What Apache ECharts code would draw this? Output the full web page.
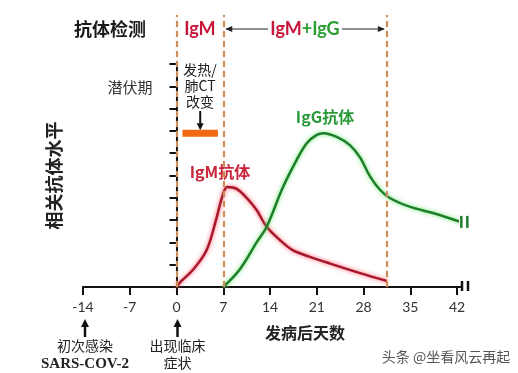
<!DOCTYPE html>
<html><head><meta charset="utf-8">
<script src="https://cdn.jsdelivr.net/npm/echarts@6/dist/echarts.min.js"></script>
<style>html,body{margin:0;padding:0;background:#fff}#c{width:518px;height:373px}</style>
</head><body><div id="c"></div>
<script>
// ---- data ----
const xTicks = [-14, -7, 0, 7, 14, 21, 28, 35, 42];
const igmDays   = [0, 0.5, 2.4, 4.5, 6.0, 6.8, 7.6, 9.0, 10.5, 12.0, 13.5, 15.5, 17.4, 20.0, 23.0, 27.5, 31.5];
const igmValues = [0, 0.2, 0.75, 1.65, 3.1, 4.0, 4.48, 4.4, 4.0, 3.45, 2.7, 2.1, 1.65, 1.35, 1.05, 0.62, 0.27];
const iggDays   = [7, 9.5, 12, 13.5, 15.9, 18, 19.5, 21, 22, 24, 26, 27.5, 29, 30.5, 32, 35, 38.4, 42.5];
const iggValues = [0, 0.8, 2.0, 2.7, 4.45, 5.7, 6.45, 6.82, 6.9, 6.73, 6.35, 5.8, 4.95, 4.35, 3.98, 3.59, 3.32, 2.92];
const phaseLines = [0, 7, 31.5];
const symptomSpan = [0.9, 6.2];
const symptomLevel = 6.9;

const CJK = '"Noto Sans CJK SC", sans-serif';
const LAT = 'Lato, "Noto Sans", sans-serif';
const RED = '#a8182c', GREEN = '#1d7f2c', ORANGE_DASH = '#c98e5e';

const chart = echarts.init(document.getElementById('c'), null, {renderer: 'canvas'});
const option = {
  animation: false,
  backgroundColor: '#fff',
  grid: [
    {left: 83, right: 61, top: 64, bottom: 86},
    {left: 83, right: 61, top: 15, bottom: 86}
  ],
  xAxis: [
    {type: 'value', gridIndex: 0, min: -14, max: 42, interval: 7,
     axisLine: {lineStyle: {color: '#111', width: 2}},
     axisTick: {length: 8, lineStyle: {color: '#111', width: 2}},
     splitLine: {show: false},
     axisLabel: {margin: 13, fontSize: 14, color: '#333', fontFamily: LAT,
       formatter: v => xTicks.includes(v) ? String(v) : ''}},
    {type: 'value', gridIndex: 1, min: -14, max: 42, show: false}
  ],
  yAxis: [
    {type: 'value', gridIndex: 0, min: 0, max: 10, interval: 1,
     axisLine: {show: true, lineStyle: {color: '#111', width: 2}},
     axisTick: {show: true, length: 7, lineStyle: {color: '#111', width: 2}},
     axisLabel: {show: false}, splitLine: {show: false},
     name: '相关抗体水平', nameLocation: 'middle', nameGap: 20, nameRotate: 90,
     nameTextStyle: {fontFamily: CJK, fontSize: 18, fontWeight: 'bold', color: '#222'}},
    {type: 'value', gridIndex: 1, min: 0, max: 1, show: false}
  ],
  series: [
    {type: 'line', xAxisIndex: 1, yAxisIndex: 1, data: [], silent: true,
     markLine: {symbol: ['none', 'none'], silent: true, label: {show: false},
       lineStyle: {color: ORANGE_DASH, width: 2, type: [6, 4], shadowBlur: 2, shadowColor: 'rgba(255,170,90,0.6)'},
       data: phaseLines.map(d => ({xAxis: d}))}},
    {name: 'IgM', type: 'line', smooth: 0.35, showSymbol: false, clip: false,
     data: igmDays.map((d, i) => [d, igmValues[i]]),
     lineStyle: {color: RED, width: 2.5, shadowBlur: 4, shadowColor: 'rgba(255,70,90,0.9)'}},
    {name: 'IgG', type: 'line', smooth: 0.35, showSymbol: false, clip: false,
     data: iggDays.map((d, i) => [d, iggValues[i]]),
     lineStyle: {color: GREEN, width: 2.5, shadowBlur: 4, shadowColor: 'rgba(90,230,90,0.9)'}}
  ]
};
chart.setOption(option);

const px = d => chart.convertToPixel({xAxisIndex: 0}, d);
const py = v => chart.convertToPixel({yAxisIndex: 0}, v);
const xEnd = px(42), yBase = py(0);

function upArrow(x, yTop, yBot, color, w) {
  return [
    {type: 'line', shape: {x1: x, y1: yBot, x2: x, y2: yTop + 6}, style: {stroke: color, lineWidth: w}},
    {type: 'polygon', shape: {points: [[x, yTop], [x - 4, yTop + 8], [x + 4, yTop + 8]]}, style: {fill: color}}
  ];
}
function downArrow(x, yTop, yBot, color, w) {
  return [
    {type: 'line', shape: {x1: x, y1: yTop, x2: x, y2: yBot - 6}, style: {stroke: color, lineWidth: w}},
    {type: 'polygon', shape: {points: [[x, yBot], [x - 3.5, yBot - 7], [x + 3.5, yBot - 7]]}, style: {fill: color}}
  ];
}
function txt(x, y, text, font, color) {
  return {type: 'text', x: x, y: y, style: {text: text, font: font, fill: color,
    textAlign: 'center', textVerticalAlign: 'middle'}};
}

const xa = px(7), xb = px(31.5), yHead = 29;
const igmX = px(3.5);
const barL = px(symptomSpan[0]), barR = px(symptomSpan[1]), barY = py(symptomLevel);
const gx = px(iggDays[iggDays.length - 1]), gy = py(iggValues[iggValues.length - 1]);

const g = [];
// header
g.push(txt(110, yHead, '抗体检测', 'bold 18px ' + CJK, '#1a1a1a'));
g.push(txt(igmX, yHead, 'IgM', 'bold 18px ' + LAT, '#c8163a'));
g.push({type: 'line', shape: {x1: xa + 3, y1: yHead, x2: xb - 3, y2: yHead}, style: {stroke: '#222', lineWidth: 1}});
g.push({type: 'polygon', shape: {points: [[xa + 2, yHead], [xa + 9, yHead - 3], [xa + 9, yHead + 3]]}, style: {fill: '#222'}});
g.push({type: 'polygon', shape: {points: [[xb - 2, yHead], [xb - 9, yHead - 3], [xb - 9, yHead + 3]]}, style: {fill: '#222'}});
g.push({type: 'rect', shape: {x: 268, y: yHead - 10, width: 74, height: 20}, style: {fill: '#fff'}});
g.push({type: 'text', x: 305, y: yHead, style: {
  text: '{r|IgM}{g|+IgG}', textAlign: 'center', textVerticalAlign: 'middle',
  rich: {r: {fontFamily: LAT, fontWeight: 'bold', fontSize: 18, fill: '#c8163a'},
         g: {fontFamily: LAT, fontWeight: 'bold', fontSize: 18, fill: '#2a9e35'}}}});
// incubation + symptoms
g.push(txt(130, 87, '潜伏期', '15px ' + CJK, '#333'));
g.push(txt(200, 70, '发热/', '14px ' + CJK, '#222'));
g.push(txt(200, 86, '肺CT', '14px ' + CJK, '#222'));
g.push(txt(200, 102, '改变', '14px ' + CJK, '#222'));
g.push(...downArrow((barL + barR) / 2, 111, barY - 3, '#111', 2));
g.push({type: 'rect', shape: {x: barL, y: barY - 3.5, width: barR - barL, height: 7}, style: {fill: '#f06a12'}});
// curve labels
g.push(txt(220, 172, 'IgM抗体', 'bold 16px ' + CJK, '#c8243a'));
g.push(txt(325, 117, 'IgG抗体', 'bold 16px ' + CJK, '#2a9a3a'));
// axis extension & break marks
g.push({type: 'line', shape: {x1: xEnd, y1: yBase, x2: xEnd + 5, y2: yBase}, style: {stroke: '#111', lineWidth: 2}});
g.push({type: 'line', shape: {x1: xEnd + 5, y1: yBase - 6, x2: xEnd + 5, y2: yBase + 4}, style: {stroke: '#111', lineWidth: 2.5}});
g.push({type: 'line', shape: {x1: xEnd + 11, y1: yBase - 6, x2: xEnd + 11, y2: yBase + 4}, style: {stroke: '#111', lineWidth: 2.5}});
g.push({type: 'line', shape: {x1: gx + 1, y1: gy - 6, x2: gx + 1, y2: gy + 6}, style: {stroke: GREEN, lineWidth: 2.5}});
g.push({type: 'line', shape: {x1: gx + 7, y1: gy - 6, x2: gx + 7, y2: gy + 6}, style: {stroke: GREEN, lineWidth: 2.5}});
// x axis name
g.push(txt(305, 333, '发病后天数', 'bold 16px ' + CJK, '#222'));
// bottom annotations
const xi = px(-14) + 2, xs = px(0) + 1;
g.push(...upArrow(xi, 319, 337, '#111', 2.5));
g.push(...upArrow(xs, 319, 337, '#111', 2.5));
g.push(txt(xi, 346, '初次感染', '14px ' + CJK, '#222'));
g.push(txt(xi, 364, 'SARS-COV-2', 'bold 15px "Liberation Serif", serif', '#222'));
g.push(txt(xs, 346, '出现临床', '14px ' + CJK, '#222'));
g.push(txt(xs, 363, '症状', '14px ' + CJK, '#222'));
// watermark
g.push(txt(446, 357, '头条 @坐看风云再起', '14px ' + CJK, '#555'));

chart.setOption({graphic: g});
</script></body></html>
